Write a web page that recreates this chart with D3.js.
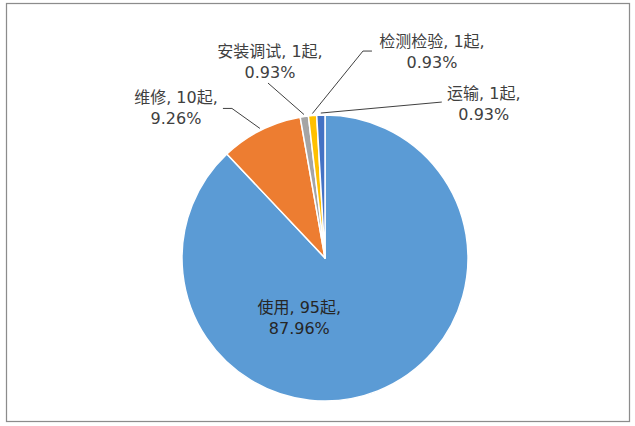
<!DOCTYPE html>
<html>
<head>
<meta charset="utf-8">
<script src="https://cdn.jsdelivr.net/npm/d3@7"></script>
<style>
  body { margin: 0; background: #fff; }
  svg { display: block; }
</style>
</head>
<body>
<svg id="chart" width="635" height="426"></svg>
<script>
const categories = ["使用", "维修", "安装调试", "检测检验", "运输"];
const counts = [95, 10, 1, 1, 1];
const colors = ["#5B9BD5", "#ED7D31", "#A5A5A5", "#FFC000", "#4472C4"];

// label placement, relative to the slice's outer edge point (or inner centroid)
const labelLayout = [
  { inside: true, label: [-50, -6] },
  { label: [-84, -25], leader: [[-37, -20], [-28, -20]] },
  { label: [-34, -57.5], leader: [[-36, -31.5]] },
  { label: [119.6, -66.5], leader: [[59.6, -62.5], [50.6, -62.5]] },
  { label: [163, -14], leader: [[121, -11]] }
];

const svg = d3.select("#chart");
const cx = 325, cy = 258, radius = 143;

// chart frame
svg.append("rect")
  .attr("x", 6.5).attr("y", 3.5)
  .attr("width", 623).attr("height", 418)
  .attr("fill", "#fff")
  .attr("stroke", "#8c8c8c")
  .attr("stroke-width", 1.25);

const total = d3.sum(counts);
const fmtPct = d3.format(".2%");

const pie = d3.pie().sort(null).value(d => d.count);
const data = categories.map((c, i) => ({ name: c, count: counts[i], color: colors[i], i }));
const arcs = pie(data);

const arc = d3.arc().innerRadius(0).outerRadius(radius);
const edgeArc = d3.arc().innerRadius(radius + 2).outerRadius(radius + 2);
const innerLabelArc = d3.arc().innerRadius(radius * 0.46).outerRadius(radius * 0.46);

const g = svg.append("g").attr("transform", `translate(${cx},${cy})`);

g.selectAll("path.slice")
  .data(arcs)
  .enter().append("path")
  .attr("class", "slice")
  .attr("d", arc)
  .attr("fill", d => d.data.color)
  .attr("stroke", "#fff")
  .attr("stroke-width", 1.5)
  .attr("stroke-linejoin", "round");

const font = "'DejaVu Sans', 'Noto Sans CJK SC', sans-serif";

arcs.forEach(d => {
  const lay = labelLayout[d.data.i];
  const lines = [`${d.data.name}, ${d.data.count}起,`, fmtPct(d.data.count / total)];
  let lx, ly;
  if (lay.inside) {
    const c = innerLabelArc.centroid(d);
    lx = c[0] + lay.label[0];
    ly = c[1] + lay.label[1];
  } else {
    const e = edgeArc.centroid(d);
    const pts = lay.leader.map(p => [e[0] + p[0], e[1] + p[1]]).concat([e]);
    g.append("path")
      .attr("d", d3.line()(pts))
      .attr("fill", "none")
      .attr("stroke", "#404040")
      .attr("stroke-width", 1);
    lx = e[0] + lay.label[0];
    ly = e[1] + lay.label[1];
  }
  const t = g.append("text")
    .attr("text-anchor", "middle")
    .attr("font-family", font)
    .attr("font-size", 16)
    .attr("fill", lay.inside ? "#262626" : "#404040");
  lines.forEach((s, k) => {
    t.append("tspan").attr("x", lx).attr("y", ly + k * 20.5).text(s);
  });
});
</script>
</body>
</html>
